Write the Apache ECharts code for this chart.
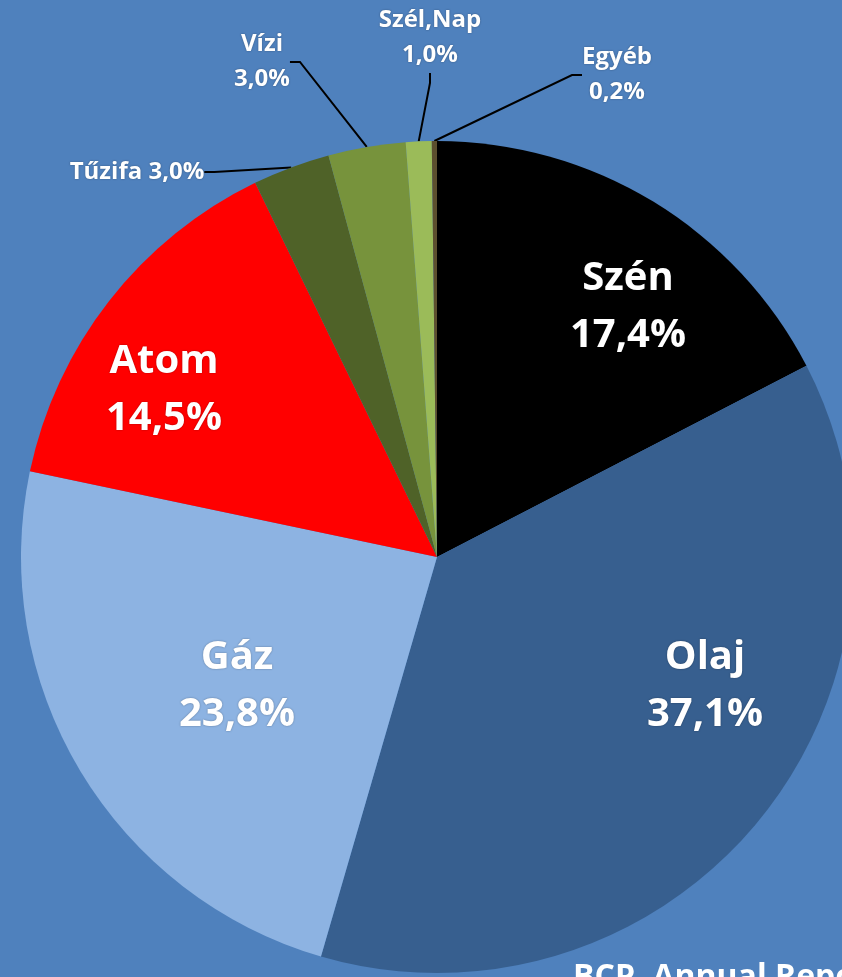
<!DOCTYPE html>
<html>
<head>
<meta charset="utf-8">
<script src="https://cdn.jsdelivr.net/npm/echarts@6/dist/echarts.min.js"></script>
<style>
  html, body { margin: 0; padding: 0; background: #4f81bd; }
  #main { width: 842px; height: 977px; }
</style>
</head>
<body>
<div id="main"></div>
<script>
// energiahordozók részaránya
const names = ['Szén', 'Olaj', 'Gáz', 'Atom', 'Tűzifa', 'Vízi', 'Szél,Nap', 'Egyéb']
const values = [17.4, 37.1, 23.8, 14.5, 3.0, 3.0, 1.0, 0.2]
const colors = ['#000000', '#375f8f', '#8db3e2', '#ff0000', '#4f6228', '#77933c', '#9bbb59', '#5c4f2e']

// kicsi szeletek: kívül, vezető vonallal
const outside = ['Tűzifa', 'Vízi', 'Szél,Nap', 'Egyéb']
// címke középpontok (Excel "best fit" elrendezés)
const labelSpots = {
  'Szén': [628, 307],
  'Olaj': [705, 686],
  'Gáz': [237, 686],
  'Atom': [164, 390],
  'Tűzifa': [137, 172],
  'Vízi': [262, 62],
  'Szél,Nap': [430, 38],
  'Egyéb': [617, 75]
}

const fmt = v => v.toFixed(1).replace('.', ',') + '%'

const chart = echarts.init(document.getElementById('main'))

const option = {
  backgroundColor: '#4f81bd',
  animation: false,
  graphic: [{
    type: 'text',
    left: 573,
    top: 962,
    style: {
      text: 'BCP, Annual Report',
      fill: '#ffffff',
      font: 'bold 32px "Open Sans", sans-serif'
    }
  }],
  series: [{
    type: 'pie',
    center: [437, 557],
    radius: 416,
    startAngle: 90,
    clockwise: true,
    avoidLabelOverlap: false,
    data: names.map((n, i) => {
      const small = outside.includes(n)
      return {
        name: n,
        value: values[i],
        itemStyle: { color: colors[i] },
        label: small
          ? { fontSize: 24, lineHeight: 35 }
          : { fontSize: 40, lineHeight: 57 },
        labelLine: { show: small }
      }
    }),
    label: {
      show: true,
      position: 'outside',
      color: '#ffffff',
      fontWeight: 'bold',
      fontFamily: '"Open Sans", sans-serif',
      align: 'center',
      textShadowColor: 'rgba(0,0,0,0.35)',
      textShadowBlur: 2,
      formatter: p => p.name === 'Tűzifa'
        ? p.name + ' ' + fmt(p.value)
        : p.name + '\n' + fmt(p.value)
    },
    labelLine: {
      show: true,
      length: 10,
      length2: 10,
      lineStyle: { color: '#000000', width: 2 }
    },
    labelLayout: params => {
      const spot = labelSpots[names[params.dataIndex]]
      return {
        x: spot[0],
        y: spot[1],
        align: 'center',
        verticalAlign: 'middle'
      }
    }
  }]
}

chart.setOption(option)
</script>
</body>
</html>
